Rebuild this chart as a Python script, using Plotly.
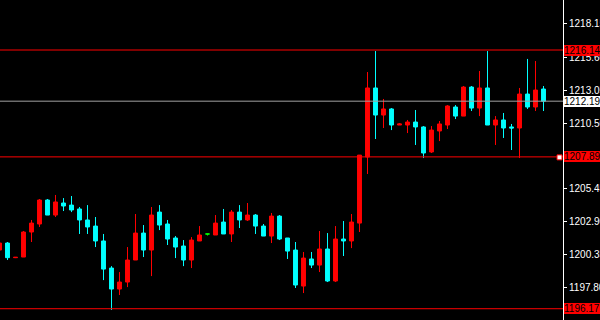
import plotly.graph_objects as go

# bar index (k = -1 is the partially visible first candle)
bars = list(range(-1, 68))
opens = [1200.70, 1201.24, 1200.11, 1200.16, 1202.09, 1202.71, 1204.56, 1203.40, 1204.33, 1204.17,
         1203.87, 1203.02, 1202.55, 1201.40, 1199.31, 1197.69, 1198.23, 1199.93, 1202.01, 1200.70,
         1203.63, 1202.71, 1201.63, 1201.01, 1199.93, 1201.40, 1201.94, 1201.86, 1202.86, 1201.94,
         1203.63, 1203.02, 1203.40, 1202.55, 1201.78, 1203.32, 1201.63, 1200.70, 1197.92, 1200.01,
         1199.54, 1200.78, 1198.31, 1201.55, 1201.40, 1202.78, 1207.88, 1213.21, 1211.12, 1211.59,
         1210.35, 1210.35, 1210.58, 1210.20, 1208.27, 1209.89, 1210.35, 1211.74, 1211.04, 1213.28,
         1211.66, 1213.21, 1210.35, 1210.74, 1210.20, 1210.12, 1212.74, 1211.74, 1213.13]
highs = [1201.24, 1201.32, 1200.16, 1202.17, 1203.02, 1204.64, 1204.64, 1204.95, 1204.71, 1204.87,
         1204.02, 1204.17, 1203.25, 1201.94, 1199.46, 1199.00, 1200.93, 1203.48, 1202.63, 1204.02,
         1204.17, 1203.02, 1201.78, 1201.47, 1201.70, 1202.55, 1201.94, 1203.40, 1203.87, 1203.79,
         1204.17, 1204.33, 1203.48, 1202.71, 1203.56, 1203.40, 1201.63, 1201.32, 1200.55, 1200.55,
         1202.17, 1202.01, 1202.55, 1202.94, 1203.48, 1208.03, 1214.44, 1216.06, 1212.36, 1211.66,
         1210.50, 1210.74, 1211.51, 1210.27, 1210.27, 1210.66, 1211.89, 1211.89, 1213.36, 1213.36,
         1214.52, 1216.06, 1211.04, 1211.28, 1210.43, 1213.21, 1215.45, 1215.29, 1213.36]
lows = [1200.70, 1199.93, 1200.08, 1200.16, 1201.32, 1202.48, 1203.40, 1203.25, 1203.71, 1203.63,
        1201.94, 1201.94, 1200.93, 1198.38, 1196.07, 1197.23, 1197.84, 1199.93, 1200.16, 1198.69,
        1202.24, 1201.09, 1200.08, 1199.46, 1199.31, 1201.40, 1201.82, 1201.86, 1201.94, 1201.32,
        1202.40, 1202.94, 1201.94, 1201.78, 1201.24, 1201.47, 1200.01, 1197.77, 1197.38, 1199.31,
        1199.00, 1198.23, 1198.23, 1200.24, 1200.85, 1202.09, 1206.57, 1209.27, 1210.12, 1209.96,
        1210.35, 1209.73, 1208.81, 1207.80, 1208.19, 1209.11, 1210.04, 1210.81, 1211.04, 1211.43,
        1211.04, 1210.35, 1208.81, 1209.35, 1208.42, 1207.80, 1211.59, 1211.43, 1211.43]
closes = [1201.24, 1200.11, 1200.14, 1202.09, 1202.78, 1204.56, 1203.40, 1204.41, 1204.10, 1203.79,
          1203.02, 1202.48, 1201.40, 1199.23, 1197.69, 1198.23, 1199.93, 1202.01, 1200.70, 1203.40,
          1202.63, 1201.55, 1200.93, 1199.93, 1201.47, 1201.86, 1201.94, 1202.78, 1201.94, 1203.63,
          1203.02, 1203.40, 1202.55, 1201.78, 1203.32, 1201.55, 1200.62, 1198.00, 1200.08, 1199.54,
          1200.78, 1198.31, 1201.55, 1201.40, 1202.86, 1208.03, 1213.21, 1211.12, 1211.59, 1210.35,
          1210.43, 1210.58, 1210.20, 1208.19, 1209.96, 1210.43, 1211.82, 1211.04, 1213.28, 1211.66,
          1213.21, 1210.35, 1210.74, 1210.12, 1210.12, 1212.74, 1211.74, 1213.05, 1212.19]

tick_vals = [1218.15, 1215.60, 1213.05, 1210.50, 1205.45, 1202.90, 1200.35, 1197.80, 1195.25]
tick_text = ["1218.15", "1215.60", "1213.05", "1210.50", "1205.45", "1202.90", "1200.35", "1197.80", "1195.25"]

red_levels = [1216.14, 1207.89, 1196.17]
bid_level = 1212.19

RED = "#ff0000"
CYAN = "#00ffff"
LIME = "#00ff00"
FONT = "Liberation Sans"

idx_main = [i for i in range(len(bars)) if opens[i] != closes[i]]
idx_doji = [i for i in range(len(bars)) if opens[i] == closes[i]]

def pick(arr, idx):
    return [arr[i] for i in idx]

fig = go.Figure()
fig.add_trace(go.Candlestick(
    x=pick(bars, idx_main), open=pick(opens, idx_main), high=pick(highs, idx_main),
    low=pick(lows, idx_main), close=pick(closes, idx_main),
    increasing=dict(line=dict(color=RED, width=1), fillcolor=RED),
    decreasing=dict(line=dict(color=CYAN, width=1), fillcolor=CYAN),
    hoverinfo="skip", showlegend=False))
fig.add_trace(go.Candlestick(
    x=pick(bars, idx_doji), open=pick(opens, idx_doji), high=pick(highs, idx_doji),
    low=pick(lows, idx_doji), close=pick(closes, idx_doji),
    increasing=dict(line=dict(color=LIME, width=1), fillcolor=LIME),
    decreasing=dict(line=dict(color=LIME, width=1), fillcolor=LIME),
    hoverinfo="skip", showlegend=False))

shapes = []
annotations = []
for lv in red_levels:
    shapes.append(dict(type="line", xref="paper", x0=0, x1=1, yref="y", y0=lv, y1=lv,
                       line=dict(color=RED, width=1)))
    annotations.append(dict(xref="paper", x=1, xanchor="left", xshift=1, yref="y", y=lv,
                            yanchor="middle", text=f"{lv:.2f}", showarrow=False,
                            bgcolor=RED, borderpad=0, borderwidth=0,
                            font=dict(family=FONT, size=10, color="#000000")))
shapes.append(dict(type="line", xref="paper", x0=0, x1=1, yref="y", y0=bid_level, y1=bid_level,
                   line=dict(color="#a0a0a0", width=1)))
annotations.append(dict(xref="paper", x=1, xanchor="left", xshift=1, yref="y", y=bid_level,
                        yanchor="middle", text=f"{bid_level:.2f}", showarrow=False,
                        bgcolor="#ffffff", borderpad=0, borderwidth=0,
                        font=dict(family=FONT, size=10, color="#000000")))
# selection marker at the right end of the middle red line
shapes.append(dict(type="rect", xref="paper", xsizemode="pixel", xanchor=1, x0=-6, x1=-1,
                   yref="y", ysizemode="pixel", yanchor=red_levels[1], y0=-3, y1=2,
                   fillcolor="#ffffff", line=dict(color=RED, width=1)))

fig.update_layout(
    width=600, height=320,
    margin=dict(l=0, r=37, t=0, b=0),
    paper_bgcolor="#000000", plot_bgcolor="#000000",
    showlegend=False,
    shapes=shapes, annotations=annotations,
    xaxis=dict(range=[-0.9375, 69.4375], visible=False, rangeslider=dict(visible=False),
               showgrid=False, zeroline=False, fixedrange=True),
    yaxis=dict(range=[1195.30, 1220.0], side="right", showgrid=False, zeroline=False,
               showline=True, linecolor="#ffffff", linewidth=1,
               ticks="outside", ticklen=3, tickcolor="#ffffff", tickwidth=1,
               tickvals=tick_vals, ticktext=tick_text, ticklabeloverflow="allow",
               tickfont=dict(family=FONT, size=10, color="#ffffff"),
               automargin=False, fixedrange=True),
)

fig.write_html("out.html")
